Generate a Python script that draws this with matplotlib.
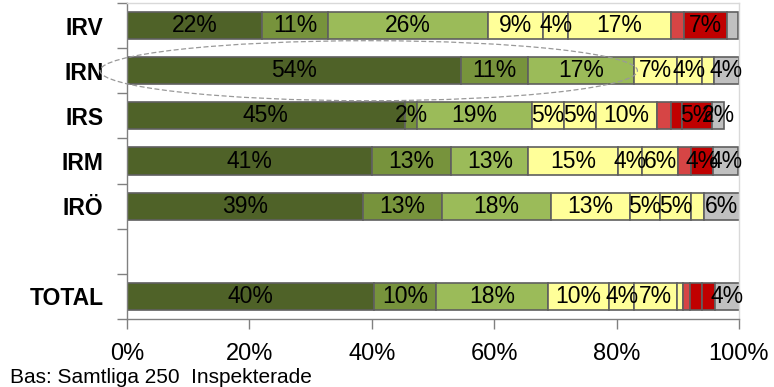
import numpy as np
import matplotlib.pyplot as plt
from matplotlib.patches import Ellipse

plt.rcParams['font.family'] = ['Liberation Sans', 'DejaVu Sans']

# rows, top to bottom (blank slot before TOTAL)
categories = ['IRV', 'IRN', 'IRS', 'IRM', 'IRÖ', '', 'TOTAL']

# segment widths in percent, one list per series
dark_olive = [22.1, 54.6, 45.4, 40.0, 38.6, 0, 40.4]
olive      = [10.8, 10.9, 2.0, 13.0, 12.9, 0, 10.1]
light_olive = [26.1, 17.3, 18.8, 12.6, 17.8, 0, 18.3]
yellow1    = [9.0, 7.0, 5.2, 14.7, 12.9, 0, 10.0]
yellow2    = [4.1, 4.1, 5.2, 3.9, 4.9, 0, 4.1]
yellow3    = [16.8, 0, 10.0, 5.9, 5.1, 0, 7.0]
yellow4    = [0, 2.0, 0, 0, 2.0, 0, 1.0]
light_red  = [2.1, 0, 2.3, 2.1, 0, 0, 1.1]
red1       = [0, 0, 1.8, 0, 0, 0, 2.0]
red2       = [7.0, 0, 4.9, 3.6, 0, 0, 2.0]
grey       = [1.8, 4.1, 2.0, 4.1, 5.9, 0, 4.1]

# data labels as printed in the chart ('' = no label)
lab_dark_olive  = ['22%', '54%', '45%', '41%', '39%', '', '40%']
lab_olive       = ['11%', '11%', '2%', '13%', '13%', '', '10%']
lab_light_olive = ['26%', '17%', '19%', '13%', '18%', '', '18%']
lab_yellow1     = ['9%', '7%', '5%', '15%', '13%', '', '10%']
lab_yellow2     = ['4%', '4%', '5%', '4%', '5%', '', '4%']
lab_yellow3     = ['17%', '', '10%', '6%', '5%', '', '7%']
lab_yellow4     = ['', '', '', '', '', '', '']
lab_light_red   = ['', '', '', '', '', '', '']
lab_red1        = ['', '', '', '', '', '', '']
lab_red2        = ['7%', '', '5%', '4%', '', '', '']
lab_grey        = ['', '4%', '2%', '4%', '6%', '', '4%']

series = [
    (dark_olive, lab_dark_olive, '#4F6228'),
    (olive, lab_olive, '#77933C'),
    (light_olive, lab_light_olive, '#9BBB59'),
    (yellow1, lab_yellow1, '#FFFF99'),
    (yellow2, lab_yellow2, '#FFFF99'),
    (yellow3, lab_yellow3, '#FFFF99'),
    (yellow4, lab_yellow4, '#FFFF99'),
    (light_red, lab_light_red, '#D64545'),
    (red1, lab_red1, '#C00000'),
    (red2, lab_red2, '#C00000'),
    (grey, lab_grey, '#C0C0C0'),
]

fig = plt.figure(figsize=(7.74, 3.87), dpi=100)
ax = fig.add_axes([127/774, 1 - 319/387, 612/774, 316/387])

y = np.arange(len(categories))
left = np.zeros(len(categories))
for vals, labs, col in series:
    vals = np.array(vals, dtype=float)
    bars = ax.barh(y, vals, left=left, height=0.6, color=col,
                   edgecolor='#5F5F5F', linewidth=1.2, zorder=2)
    for b, v, t in zip(bars, vals, labs):
        if v == 0:
            b.set_visible(False)
            continue
        if t:
            ax.text(b.get_x() + v / 2, b.get_y() + b.get_height() / 2, t,
                    ha='center', va='center', fontsize=16.5, color='black', zorder=4)
    left += vals

ax.set_xlim(0, 100)
ax.set_ylim(len(categories) - 0.5, -0.5)

ax.set_xticks(np.arange(0, 101, 20))
ax.set_xticklabels([f'{v}%' for v in range(0, 101, 20)], fontsize=17)
ax.tick_params(axis='x', length=7, width=1, color='#808080', pad=10)

ax.set_yticks(y)
ax.set_yticklabels(categories, fontsize=16.5, fontweight='bold')
ax.tick_params(axis='y', which='major', length=0, pad=17)
ax.set_yticks(np.arange(-0.5, len(categories), 1), minor=True)
ax.tick_params(axis='y', which='minor', length=7, width=1, color='#808080')

for s in ['left', 'bottom']:
    ax.spines[s].set_color('#808080')
    ax.spines[s].set_linewidth(1)
for s in ['top', 'right']:
    ax.spines[s].set_color('#D9D9D9')
    ax.spines[s].set_linewidth(1)

# dashed ellipse around IRN row
ax.add_patch(Ellipse((39.5, 1), 87.8, 1.33, fill=False, linestyle=(0, (4, 2)),
                     edgecolor='#999999', linewidth=0.9, clip_on=False, zorder=5))

fig.text(10/774, 1 - 383/387, 'Bas: Samtliga 250  Inspekterade', fontsize=15,
         ha='left', va='baseline')

fig.savefig('out.png', dpi=100)
